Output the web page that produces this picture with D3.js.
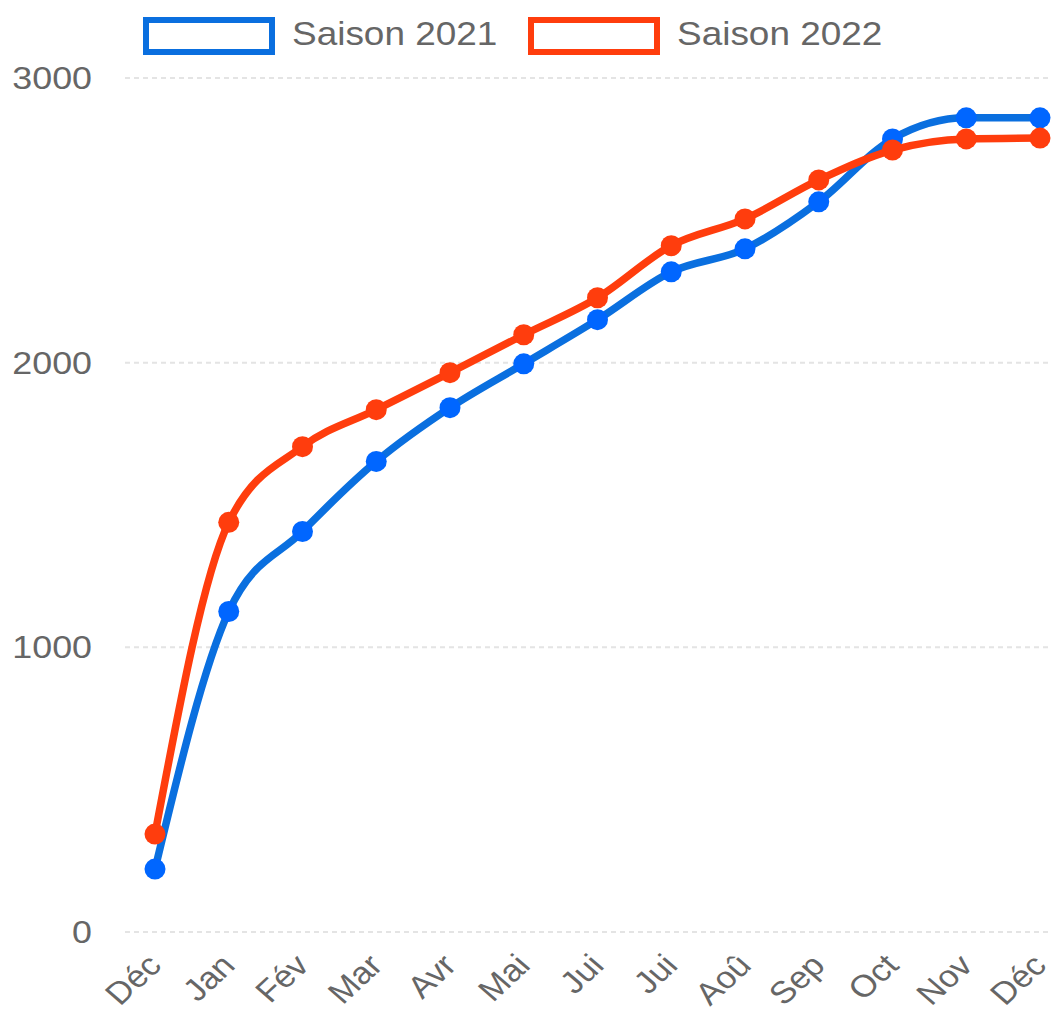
<!DOCTYPE html>
<html>
<head>
<meta charset="utf-8">
<script src="https://cdn.jsdelivr.net/npm/d3@7"></script>
<style>
  body { margin: 0; background: #fff; }
  text { font-family: "Liberation Sans", Arial, sans-serif; fill: #666; }
</style>
</head>
<body>
<div id="chart"></div>
<script>
const months = ['Déc', 'Jan', 'Fév', 'Mar', 'Avr', 'Mai', 'Jui', 'Jui', 'Aoû', 'Sep', 'Oct', 'Nov', 'Déc'];

const saison2021 = [221, 1126, 1407, 1653, 1842, 1996, 2151, 2319, 2400, 2565, 2786, 2860, 2860];
const saison2022 = [344, 1439, 1705, 1835, 1965, 2098, 2228, 2411, 2505, 2642, 2747, 2786, 2789];

const yTicks = [0, 1000, 2000, 3000];

const seriesNames = ['Saison 2021', 'Saison 2022'];
const lineColors = ['#0a6fdf', '#ff3d0d'];
const pointColors = ['#0066ff', '#ff3d0d'];

const width = 1052;
const height = 1012;
const stretch = 1.12;

let svg = d3.select('#chart').append('svg')
  .attr('width', width)
  .attr('height', height);

let x = d3.scalePoint()
  .domain(d3.range(months.length))
  .range([155, 1040]);

let y = d3.scaleLinear()
  .domain([0, 3000])
  .range([932, 78]);

// Grid lines
svg.append('g').selectAll('line')
  .data(yTicks)
  .join('line')
  .attr('x1', 125)
  .attr('x2', width)
  .attr('y1', d => y(d))
  .attr('y2', d => y(d))
  .attr('stroke', '#e4e4e4')
  .attr('stroke-width', 2)
  .attr('stroke-dasharray', '5,4');

// Y labels
svg.append('g').selectAll('text')
  .data(yTicks)
  .join('text')
  .attr('transform', d => `translate(92,${y(d) + 11}) scale(${stretch},1)`)
  .attr('text-anchor', 'end')
  .attr('font-size', 32)
  .text(d => d);

// X labels
svg.append('g').selectAll('text')
  .data(months)
  .join('text')
  .attr('transform', (d, i) => `translate(${x(i) + 8},967) scale(${stretch},1) rotate(-46)`)
  .attr('text-anchor', 'end')
  .attr('font-size', 31)
  .text(d => d);

// Lines and points
let allSeries = [saison2021, saison2022];
let makeLine = d3.line()
  .x((d, i) => x(i))
  .y(d => y(d))
  .curve(d3.curveMonotoneX);

allSeries.forEach((values, j) => {
  svg.append('path')
    .attr('d', makeLine(values))
    .attr('fill', 'none')
    .attr('stroke', lineColors[j])
    .attr('stroke-width', 7.5)
    .attr('stroke-linejoin', 'round');

  svg.append('g').selectAll('circle')
    .data(values)
    .join('circle')
    .attr('cx', (d, i) => x(i))
    .attr('cy', d => y(d))
    .attr('r', 10.5)
    .attr('fill', pointColors[j]);
});

// Legend
let legendX = [146, 531];
seriesNames.forEach((name, j) => {
  svg.append('rect')
    .attr('x', legendX[j])
    .attr('y', 20)
    .attr('width', 126)
    .attr('height', 32)
    .attr('fill', '#fff')
    .attr('stroke', lineColors[j])
    .attr('stroke-width', 6);

  svg.append('text')
    .attr('transform', `translate(${legendX[j] + 146},45) scale(${stretch},1)`)
    .attr('font-size', 33)
    .text(name);
});
</script>
</body>
</html>
